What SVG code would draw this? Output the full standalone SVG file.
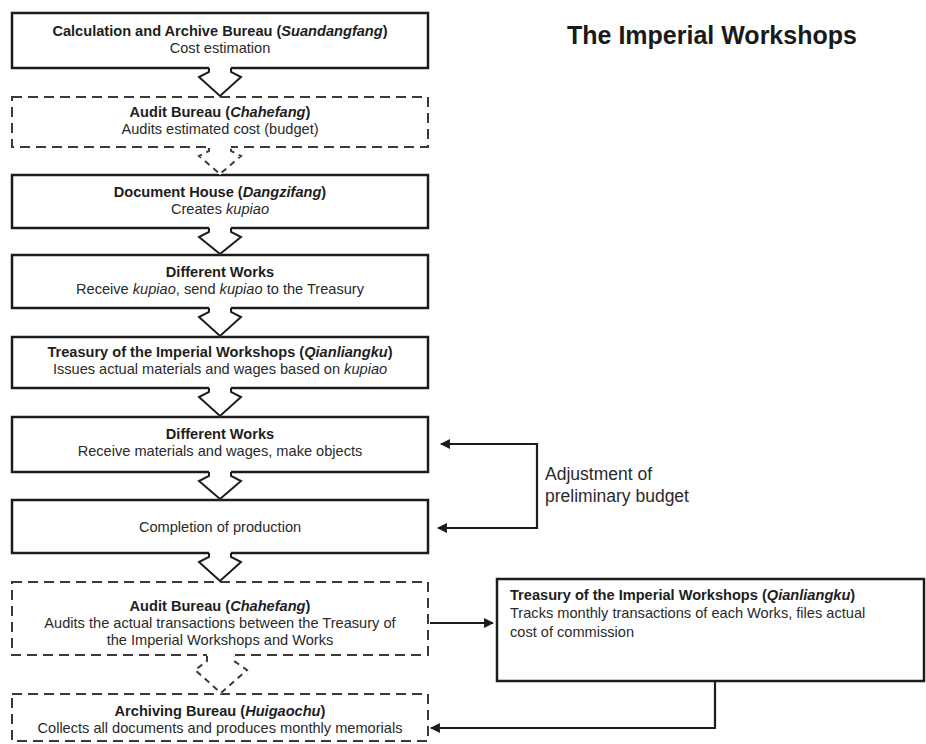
<svg xmlns="http://www.w3.org/2000/svg" width="926" height="744" viewBox="0 0 926 744">
<defs>
<style>
.box{fill:#fff;stroke:#1c1c1c;stroke-width:2.5}
.dbox{fill:#fff;stroke:#3a3a3a;stroke-width:2;stroke-dasharray:10 6}
.t{font-family:"Liberation Sans",Arial,sans-serif;font-size:14.6px;fill:#2a2a2a}
.c{text-anchor:middle}
.b{font-weight:bold;fill:#1e1e1e}
.i{font-style:italic}
.lbl{font-family:"Liberation Sans",Arial,sans-serif;font-size:17.5px;fill:#2a2a2a}
.title{font-family:"Liberation Sans",Arial,sans-serif;font-size:25px;font-weight:bold;fill:#1a1a1a}
.ar{fill:#fff;stroke:none}
.arl{fill:none;stroke:#1c1c1c;stroke-width:2;stroke-linejoin:miter}
.darl{fill:none;stroke:#3a3a3a;stroke-width:2;stroke-dasharray:6 5}
.conn{fill:none;stroke:#1c1c1c;stroke-width:2.2}
</style>
<marker id="ah" viewBox="0 0 10 10" refX="9" refY="5" markerWidth="4.5" markerHeight="4.5" orient="auto-start-reverse">
<path d="M0,0 L10,5 L0,10 z" fill="#1c1c1c"/>
</marker>
</defs>

<text class="title" x="567" y="44">The Imperial Workshops</text>

<g id="n1">
<rect class="box" x="12" y="13" width="416" height="55"/>
<text class="t c b" x="220" y="36">Calculation and Archive Bureau (<tspan class="i">Suandangfang</tspan>)</text>
<text class="t c" x="220" y="53">Cost estimation</text>
</g>
<g id="n2">
<rect class="dbox" x="12" y="97" width="416" height="50"/>
<text class="t c b" x="220" y="117">Audit Bureau (<tspan class="i">Chahefang</tspan>)</text>
<text class="t c" x="220" y="134">Audits estimated cost (budget)</text>
</g>
<g id="n3">
<rect class="box" x="12" y="175" width="416" height="53"/>
<text class="t c b" x="220" y="197">Document House (<tspan class="i">Dangzifang</tspan>)</text>
<text class="t c" x="220" y="214">Creates <tspan class="i">kupiao</tspan></text>
</g>
<g id="n4">
<rect class="box" x="12" y="255" width="416" height="53"/>
<text class="t c b" x="220" y="277">Different Works</text>
<text class="t c" x="220" y="294">Receive <tspan class="i">kupiao</tspan>, send <tspan class="i">kupiao</tspan> to the Treasury</text>
</g>
<g id="n5">
<rect class="box" x="12" y="337" width="416" height="51"/>
<text class="t c b" x="220" y="357">Treasury of the Imperial Workshops (<tspan class="i">Qianliangku</tspan>)</text>
<text class="t c" x="220" y="374">Issues actual materials and wages based on <tspan class="i">kupiao</tspan></text>
</g>
<g id="n6">
<rect class="box" x="12" y="417" width="416" height="55"/>
<text class="t c b" x="220" y="439">Different Works</text>
<text class="t c" x="220" y="456">Receive materials and wages, make objects</text>
</g>
<g id="n7">
<rect class="box" x="12" y="500" width="416" height="53"/>
<text class="t c" x="220" y="532">Completion of production</text>
</g>
<g id="n8">
<rect class="dbox" x="12" y="582" width="416" height="73"/>
<text class="t c b" x="220" y="611">Audit Bureau (<tspan class="i">Chahefang</tspan>)</text>
<text class="t c" x="220" y="628">Audits the actual transactions between the Treasury of</text>
<text class="t c" x="220" y="645">the Imperial Workshops and Works</text>
</g>
<g id="n9">
<rect class="dbox" x="12" y="694" width="416" height="47"/>
<text class="t c b" x="220" y="716">Archiving Bureau (<tspan class="i">Huigaochu</tspan>)</text>
<text class="t c" x="220" y="733">Collects all documents and produces monthly memorials</text>
</g>
<g id="n10">
<rect class="box" x="497" y="579" width="427" height="102"/>
<text class="t b" x="510" y="600">Treasury of the Imperial Workshops (<tspan class="i">Qianliangku</tspan>)</text>
<text class="t" x="510" y="618">Tracks monthly transactions of each Works, files actual</text>
<text class="t" x="510" y="637">cost of commission</text>
</g>

<g id="connectors">
<g id="a1"><polygon class="ar" points="209,65 231,65 231,72 241,77 220,97 199,77 209,72"/><path class="arl" d="M209,68 V72 L199,77 L220,96 L241,77 L231,72 V68"/></g>
<g id="a2"><polygon class="ar" points="209,145 231,145 231,151 241,156 220,175 199,156 209,151"/><path class="darl" d="M209,148 V151 L199,156 L220,174 L241,156 L231,151 V148"/></g>
<g id="a3"><polygon class="ar" points="209,225 231,225 231,232 241,237 220,255 199,237 209,232"/><path class="arl" d="M209,228 V232 L199,237 L220,254 L241,237 L231,232 V228"/></g>
<g id="a4"><polygon class="ar" points="209,305 231,305 231,312 241,317 220,337 199,317 209,312"/><path class="arl" d="M209,308 V312 L199,317 L220,336 L241,317 L231,312 V308"/></g>
<g id="a5"><polygon class="ar" points="209,385 231,385 231,392 241,397 220,417 199,397 209,392"/><path class="arl" d="M209,388 V392 L199,397 L220,416 L241,397 L231,392 V388"/></g>
<g id="a6"><polygon class="ar" points="209,469 231,469 231,476 241,481 220,500 199,481 209,476"/><path class="arl" d="M209,472 V476 L199,481 L220,499 L241,481 L231,476 V472"/></g>
<g id="a7"><polygon class="ar" points="209,550 231,550 231,557 241,562 220,582 199,562 209,557"/><path class="arl" d="M209,553 V557 L199,562 L220,581 L241,562 L231,557 V553"/></g>
<g id="a8"><polygon class="ar" points="207,653 234,653 234,661 247,670 221,694 195,670 207,661"/><path class="darl" d="M207,656 V661 L195,670 L221,693 L247,670 L234,661 V656"/></g>

<path class="conn" d="M441,444 H537 V528 H438" marker-start="url(#ah)" marker-end="url(#ah)"/>
<path class="conn" d="M430,623 H493" marker-end="url(#ah)"/>
<path class="conn" d="M715,681 V728 H431" marker-end="url(#ah)"/>
</g>

<text class="lbl" x="545" y="480">Adjustment of</text>
<text class="lbl" x="545" y="502">preliminary budget</text>
</svg>
